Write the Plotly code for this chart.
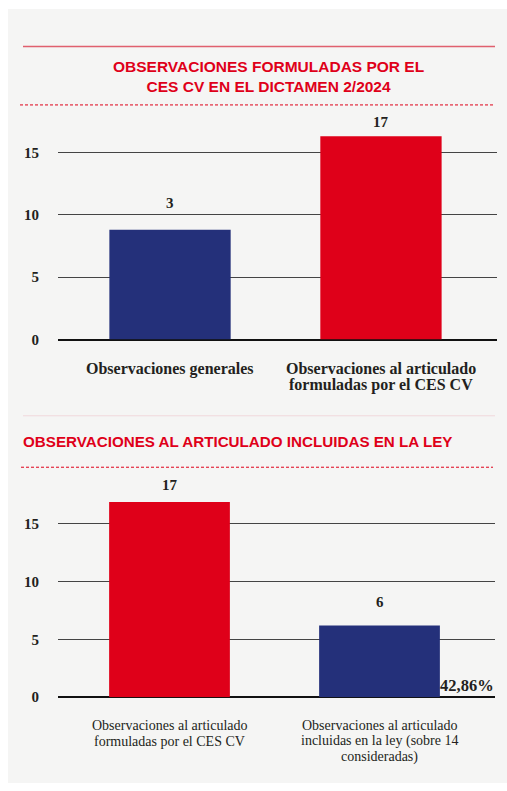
import plotly.graph_objects as go

# ---------------- data ----------------
top_categories = ["Observaciones generales", "Observaciones al articulado<br>formuladas por el CES CV"]
top_heights = [8.8, 16.3]
top_labels = ["3", "17"]

bottom_categories = ["Observaciones al articulado<br>formuladas por el CES CV",
                     "Observaciones al articulado<br>incluidas en la ley (sobre 14<br>consideradas)"]
bottom_heights = [16.9, 6.2]
bottom_labels = ["17", "6"]
percent_label = "42,86%"

y_ticks = [0, 5, 10, 15]
top_title = "OBSERVACIONES FORMULADAS POR EL<br>CES CV EN EL DICTAMEN 2/2024"
bottom_title = "OBSERVACIONES AL ARTICULADO INCLUIDAS EN LA LEY"

# ---------------- style ----------------
W, H = 507, 791
RED = "#df0019"
BLUE = "#24307a"
BG = "#f5f5f4"
SERIF = "Liberation Serif"
SANS = "Liberation Sans"
TXT = "#231f20"

def py(p):  # window pixel y -> paper fraction
    return 1 - p / H

def px(p):
    return p / W

fig = go.Figure()

fig.add_trace(go.Bar(x=top_categories, y=top_heights, marker_color=[BLUE, RED],
                     marker_line_width=0, width=0.575, xaxis="x", yaxis="y",
                     hoverinfo="skip", showlegend=False))
fig.add_trace(go.Bar(x=bottom_categories, y=bottom_heights, marker_color=[RED, BLUE],
                     marker_line_width=0, width=0.575, xaxis="x2", yaxis="y2",
                     hoverinfo="skip", showlegend=False))

xr = [-0.531, 1.55]
common_y = dict(range=[0, 18], tickvals=y_ticks, showgrid=True, gridcolor="#444444",
                gridwidth=1, zeroline=True, zerolinecolor="#111111", zerolinewidth=2,
                showline=False, ticks="", ticklabelstandoff=18,
                tickfont=dict(family=SERIF, size=15, color=TXT, weight="bold"), fixedrange=True)
common_x = dict(range=xr, showgrid=False, zeroline=False, showline=False,
                showticklabels=False, ticks="", fixedrange=True)

fig.update_layout(
    width=W, height=H,
    margin=dict(l=0, r=0, t=0, b=0),
    paper_bgcolor="white", plot_bgcolor="rgba(0,0,0,0)",
    xaxis=dict(domain=[px(58), px(497)], anchor="y", **common_x),
    yaxis=dict(domain=[py(343), py(343 - 18 * 12.6)], anchor="x", **common_y),
    xaxis2=dict(domain=[px(58), px(495)], anchor="y2", **common_x),
    yaxis2=dict(domain=[py(704.3), py(704.3 - 18 * 11.67)], anchor="x2", **common_y),
)

shapes = [
    dict(type="rect", xref="paper", yref="paper", x0=px(8), x1=1, y0=0, y1=py(9),
         fillcolor=BG, line_width=0, layer="below"),
    dict(type="line", xref="paper", yref="paper", x0=px(23), x1=px(495), y0=py(47), y1=py(47),
         line=dict(color="#e0606e", width=1.5)),
    dict(type="line", xref="paper", yref="paper", x0=px(20), x1=px(495), y0=py(106), y1=py(106),
         line=dict(color=RED, width=1, dash="3px,2px")),
    dict(type="line", xref="paper", yref="paper", x0=px(23), x1=px(495), y0=py(420), y1=py(420),
         line=dict(color="#f0d8dc", width=1)),
    dict(type="line", xref="paper", yref="paper", x0=px(21), x1=px(493), y0=py(472), y1=py(472),
         line=dict(color=RED, width=1, dash="3px,2px")),
]
fig.update_layout(shapes=shapes)

ann = []
ann.append(dict(text="<b>" + top_title + "</b>", xref="paper", yref="paper",
                x=px(268), y=py(77), xanchor="center", yanchor="middle", showarrow=False,
                font=dict(family=SANS, size=15.5, color=RED), align="center"))
ann.append(dict(text="<b>" + bottom_title + "</b>", xref="paper", yref="paper",
                x=px(21), y=py(446), xanchor="left", yanchor="middle", showarrow=False,
                font=dict(family=SANS, size=15.2, color=RED), align="left"))

# category labels (one annotation per line for tight leading)
def cat_labels(cats, xref, yref, first, step, font):
    for c in cats:
        for i, line in enumerate(c.split("<br>")):
            ann.append(dict(text=line, x=c, y=0, xref=xref, yref=yref,
                            yshift=-(first + i * step), showarrow=False, borderpad=0,
                            xanchor="center", yanchor="middle", font=font))

cat_labels(top_categories, "x", "y", 29, 16.5,
           dict(family=SERIF, size=16, color=TXT, weight="bold"))
cat_labels(bottom_categories, "x2", "y2", 28.4, 15.5,
           dict(family=SERIF, size=14, color=TXT))

top_shift = [27, 14]
for c, h, lab, s in zip(top_categories, top_heights, top_labels, top_shift):
    ann.append(dict(text="<b>" + lab + "</b>", x=c, y=h, xref="x", yref="y", yshift=s,
                    showarrow=False, yanchor="middle",
                    font=dict(family=SERIF, size=15, color=TXT)))
bottom_shift = [17, 24]
for c, h, lab, s in zip(bottom_categories, bottom_heights, bottom_labels, bottom_shift):
    ann.append(dict(text="<b>" + lab + "</b>", x=c, y=h, xref="x2", yref="y2", yshift=s,
                    showarrow=False, yanchor="middle",
                    font=dict(family=SERIF, size=15, color=TXT)))

ann.append(dict(text="<b>" + percent_label + "</b>", xref="paper", yref="paper",
                x=px(496), y=py(693), xanchor="right", yanchor="middle", showarrow=False,
                font=dict(family=SERIF, size=16.5, color=TXT)))
fig.update_layout(annotations=ann)

fig.write_html("out.html", config={"displayModeBar": False},
               post_script="document.body.style.margin='0px';"
                           "document.documentElement.style.overflow='hidden';")
